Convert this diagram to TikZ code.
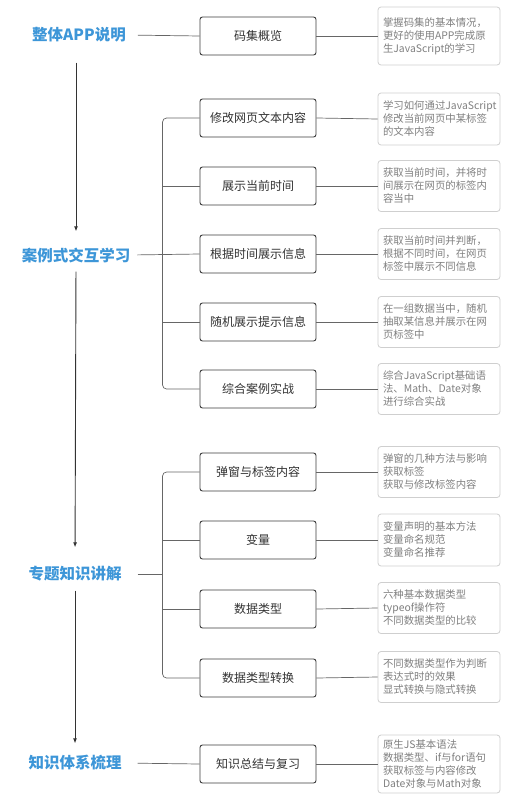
\documentclass[tikz,border=0pt]{standalone}
\usepackage{fontspec}
\setmainfont{Noto Sans CJK SC}
\usetikzlibrary{arrows.meta}
\definecolor{titleblue}{HTML}{3D96D8}
\definecolor{boxline}{HTML}{3C3C3C}
\definecolor{notegray}{HTML}{808080}
\definecolor{noteline}{HTML}{CFCFCF}
\begin{document}
\begin{tikzpicture}[x=1pt,y=-1pt,
  stage/.style={inner sep=0pt,text=titleblue,font=\fontsize{15.5}{18}\selectfont\bfseries},
  topic/.style={draw=boxline,line width=0.9pt,rounded corners=2.5pt,fill=white,
    minimum width=116pt,minimum height=38pt,inner sep=0pt,text=black!80,
    font=\fontsize{12}{14.4}\selectfont},
  note/.style={draw=noteline,line width=0.8pt,rounded corners=3pt,text=notegray,
    text width=112pt,inner xsep=5pt,inner ysep=0pt,minimum height=51pt,align=left,
    font=\fontsize{10.4}{13}\selectfont},
  link/.style={draw=black!60,line width=0.7pt},
  flow/.style={draw=black!80,line width=0.9pt,-{Latex[length=5pt,width=4pt]}}]
\path[use as bounding box,fill=white] (0,0) rectangle (520,800);
% stages
\node[stage] (t1) at (79,35) {整体APP说明};
\node[stage] (t2) at (76,255) {案例式交互学习};
\node[stage] (t3) at (75,574) {专题知识讲解};
\node[stage] (t4) at (75,763) {知识体系梳理};
\draw[flow,shorten <=20pt,shorten >=16pt] (t1.south -| t2.north) -- (t2.north);
\draw[flow,shorten <=9pt,shorten >=19pt] (t2.south) -- (t3.north);
\draw[flow,shorten <=9pt,shorten >=12pt] (t3.south) -- (t4.north);
% topics
\node[topic] (m1) at (258,36) {码集概览};
\node[topic] (m2) at (258,118) {修改网页文本内容};
\node[topic] (m3) at (258,186) {展示当前时间};
\node[topic] (m4) at (258,254) {根据时间展示信息};
\node[topic] (m5) at (258,322) {随机展示提示信息};
\node[topic] (m6) at (258,389) {综合案例实战};
\node[topic] (m7) at (258,472) {弹窗与标签内容};
\node[topic] (m8) at (258,540) {变量};
\node[topic] (m9) at (258,609) {数据类型};
\node[topic] (m10) at (258,678) {数据类型转换};
\node[topic] (m11) at (258,764) {知识总结与复习};
% notes
\node[note,minimum height=58pt] (d1) at (439,36) {掌握码集的基本情况，\\更好的使用APP完成原\\生JavaScript的学习};
\node[note,minimum height=52pt] (d2) at (439,119) {学习如何通过JavaScript\\修改当前网页中某标签\\的文本内容};
\node[note] (d3) at (439,186) {获取当前时间，并将时\\间展示在网页的标签内\\容当中};
\node[note] (d4) at (439,254) {获取当前时间并判断，\\根据不同时间，在网页\\标签中展示不同信息};
\node[note] (d5) at (439,322) {在一组数据当中，随机\\抽取某信息并展示在网\\页标签中};
\node[note] (d6) at (439,389) {综合JavaScript基础语\\法、Math、Date对象\\进行综合实战};
\node[note] (d7) at (439,472) {弹窗的几种方法与影响\\获取标签\\获取与修改标签内容};
\node[note,minimum height=52pt] (d8) at (439,540) {变量声明的基本方法\\变量命名规范\\变量命名推荐};
\node[note] (d9) at (439,608) {六种基本数据类型\\typeof操作符\\不同数据类型的比较};
\node[note] (d10) at (439,677) {不同数据类型作为判断\\表达式时的效果\\显式转换与隐式转换};
\node[note,minimum height=58pt] (d11) at (439,764) {原生JS基本语法\\数据类型、if与for语句\\获取标签与内容修改\\Date对象与Math对象};
% stage to topic
\coordinate (j3) at (163,574);
\draw[link,shorten <=12pt] (t1.east) -- (m1.west);
\draw[link,shorten <=7pt] (t2.east) -- (m4.west);
\draw[link,shorten <=16pt] (t3.east) -- (j3);
\draw[link,shorten <=16pt] (t4.east) -- (m11.west);
% brackets
\draw[link,rounded corners=4pt] (m2.west) -- ++(-37,0) |- (m6.west);
\draw[link] (m3.west) -- ++(-37,0);
\draw[link] (m5.west) -- ++(-37,0);
\draw[link,rounded corners=4pt] (m7.west) -- ++(-37,0) |- (m10.west);
\draw[link] (m8.west) -- ++(-37,0);
\draw[link] (m9.west) -- ++(-37,0);
% topic to note
\foreach \i in {1,...,11}
  \draw[link] (m\i.east) -- (d\i.west);
\end{tikzpicture}
\end{document}
